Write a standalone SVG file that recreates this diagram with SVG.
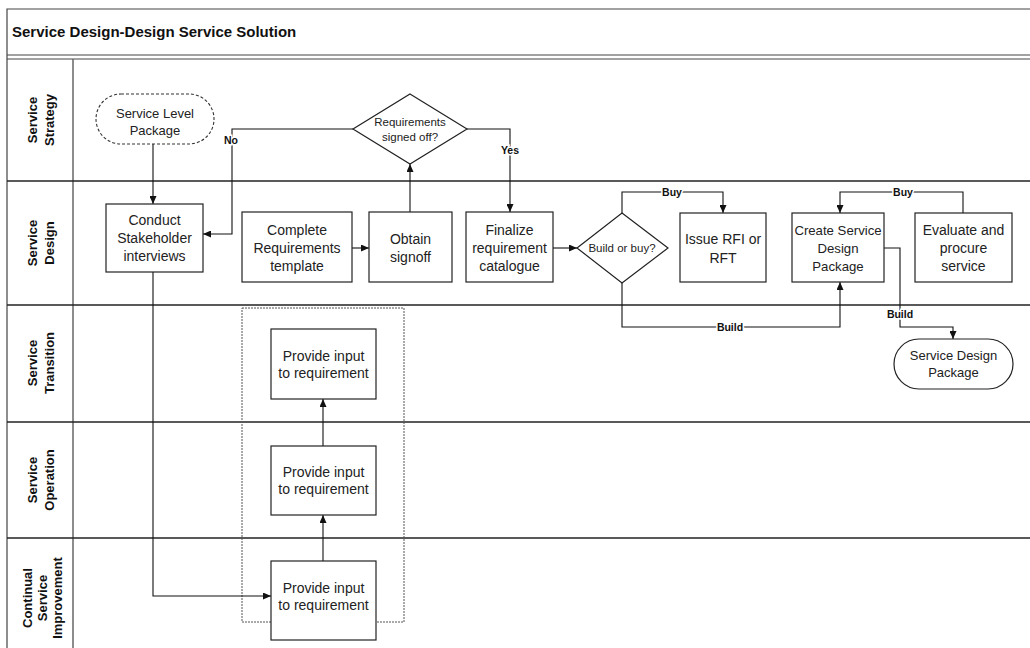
<svg xmlns="http://www.w3.org/2000/svg" width="1030" height="648" viewBox="0 0 1030 648">
  <style>
    .frame { fill: none; stroke: #444; stroke-width: 1.2; }
    .lane { stroke: #222; stroke-width: 1.5; }
    .col { stroke: #666; stroke-width: 1.5; }
    .box { fill: #fff; stroke: #222; stroke-width: 1.2; }
    .term { fill: #fff; stroke: #222; stroke-width: 1.2; }
    .dashterm { fill: #fff; stroke: #333; stroke-width: 1.1; stroke-dasharray: 3 2; }
    .group { fill: none; stroke: #555; stroke-width: 1; stroke-dasharray: 2 1; }
    .conn { fill: none; stroke: #111; stroke-width: 1.1; }
    .t { font-family: "Liberation Sans", Arial, sans-serif; fill: #222; text-anchor: middle; }
    .n { font-size: 14px; }
    .m { font-size: 13.2px; }
    .s { font-size: 13px; }
    .d { font-size: 11.5px; }
    .lbl { font-family: "Liberation Sans", Arial, sans-serif; font-weight: bold; font-size: 10.5px; fill: #111; text-anchor: middle; stroke: #fff; stroke-width: 3; paint-order: stroke; }
    .lanet { font-family: "Liberation Sans", Arial, sans-serif; font-weight: bold; font-size: 13px; fill: #111; text-anchor: middle; }
    .title { font-family: "Liberation Sans", Arial, sans-serif; font-weight: bold; font-size: 15px; fill: #111; }
  </style>
  <defs>
    <marker id="arrow" markerWidth="8" markerHeight="7" refX="8" refY="3.5" orient="auto" markerUnits="userSpaceOnUse">
      <path d="M0,0 L8,3.5 L0,7 z" fill="#111"/>
    </marker>
  </defs>

  <rect width="1030" height="648" fill="#fff"/>

  <!-- pool frame and title band -->
  <g id="pool">
    <path class="frame" d="M7,660 V9 H1040"/>
    <line class="frame" x1="7" y1="55" x2="1040" y2="55"/>
    <line class="frame" x1="7" y1="59" x2="1040" y2="59"/>
    <text class="title" x="12" y="37">Service Design-Design Service Solution</text>
  </g>

  <!-- swimlanes -->
  <g id="lanes">
    <line class="col" x1="73" y1="59" x2="73" y2="660"/>
    <line class="lane" x1="7" y1="181" x2="1040" y2="181"/>
    <line class="lane" x1="7" y1="305" x2="1040" y2="305"/>
    <line class="lane" x1="7" y1="422" x2="1040" y2="422"/>
    <line class="lane" x1="7" y1="538" x2="1040" y2="538"/>
    <text class="lanet" transform="translate(40,120) rotate(-90)"><tspan x="0" y="-3.5">Service</tspan><tspan x="0" y="13.5">Strategy</tspan></text>
    <text class="lanet" transform="translate(40,243) rotate(-90)"><tspan x="0" y="-3.5">Service</tspan><tspan x="0" y="13.5">Design</tspan></text>
    <text class="lanet" transform="translate(40,363) rotate(-90)"><tspan x="0" y="-3.5">Service</tspan><tspan x="0" y="13.5">Transition</tspan></text>
    <text class="lanet" transform="translate(40,480) rotate(-90)"><tspan x="0" y="-3.5">Service</tspan><tspan x="0" y="13.5">Operation</tspan></text>
    <text class="lanet" transform="translate(42,598) rotate(-90)"><tspan x="0" y="-10.5">Continual</tspan><tspan x="0" y="4.5">Service</tspan><tspan x="0" y="19.5">Improvement</tspan></text>
  </g>

  <!-- grouping of the input activities -->
  <rect id="input-group" class="group" x="242" y="308" width="162" height="314"/>

  <!-- connectors -->
  <g id="connectors">
    <path class="conn" d="M153,144 V204" marker-end="url(#arrow)"/>
    <path class="conn" d="M353,129 H232 V234 H203" marker-end="url(#arrow)"/>
    <path class="conn" d="M410,212 V164" marker-end="url(#arrow)"/>
    <path class="conn" d="M467,129 H510 V212" marker-end="url(#arrow)"/>
    <path class="conn" d="M352,248 H369" marker-end="url(#arrow)"/>
    <path class="conn" d="M553,248 H577" marker-end="url(#arrow)"/>
    <path class="conn" d="M622,213 V192 H723 V213" marker-end="url(#arrow)"/>
    <path class="conn" d="M622,283 V327 H840 V282" marker-end="url(#arrow)"/>
    <path class="conn" d="M963,213 V192 H840 V213" marker-end="url(#arrow)"/>
    <path class="conn" d="M884,248 H900 V327 H953 V339" marker-end="url(#arrow)"/>
    <path class="conn" d="M153,272 V596 H271" marker-end="url(#arrow)"/>
    <path class="conn" d="M323,561 V515" marker-end="url(#arrow)"/>
    <path class="conn" d="M323,446 V399" marker-end="url(#arrow)"/>
    <text class="lbl" x="231" y="144">No</text>
    <text class="lbl" x="510" y="154">Yes</text>
    <text class="lbl" x="672" y="196">Buy</text>
    <text class="lbl" x="730" y="331">Build</text>
    <text class="lbl" x="903" y="196">Buy</text>
    <text class="lbl" x="900" y="318">Build</text>
  </g>

  <!-- nodes -->
  <g id="service-level-package">
    <rect class="dashterm" x="96" y="94" width="118" height="50" rx="25"/>
    <text class="t s" x="155" y="118">Service Level<tspan x="155" y="135">Package</tspan></text>
  </g>
  <g id="requirements-signed-off">
    <polygon class="box" points="410,94 467,129 410,164 353,129"/>
    <text class="t d" x="410" y="126">Requirements<tspan x="410" y="141">signed off?</tspan></text>
  </g>
  <g id="conduct-interviews">
    <rect class="box" x="106" y="204" width="97" height="68"/>
    <text class="t n" x="154.5" y="225">Conduct<tspan x="154.5" y="243">Stakeholder</tspan><tspan x="154.5" y="261">interviews</tspan></text>
  </g>
  <g id="complete-template">
    <rect class="box" x="242" y="212" width="110" height="70"/>
    <text class="t n" x="297" y="235">Complete<tspan x="297" y="253">Requirements</tspan><tspan x="297" y="271">template</tspan></text>
  </g>
  <g id="obtain-signoff">
    <rect class="box" x="369" y="212" width="83" height="70"/>
    <text class="t n" x="410.5" y="244">Obtain<tspan x="410.5" y="262">signoff</tspan></text>
  </g>
  <g id="finalize-catalogue">
    <rect class="box" x="466" y="212" width="87" height="70"/>
    <text class="t n" x="509.5" y="235">Finalize<tspan x="509.5" y="253">requirement</tspan><tspan x="509.5" y="271">catalogue</tspan></text>
  </g>
  <g id="build-or-buy">
    <polygon class="box" points="622,213 668,248 622,283 577,248"/>
    <text class="t d" x="622" y="252">Build or buy?</text>
  </g>
  <g id="issue-rfi">
    <rect class="box" x="680" y="213" width="86" height="69"/>
    <text class="t n" x="723" y="244">Issue RFI or<tspan x="723" y="263">RFT</tspan></text>
  </g>
  <g id="create-sdp">
    <rect class="box" x="792" y="213" width="92" height="69"/>
    <text class="t m" x="838" y="235">Create Service<tspan x="838" y="253">Design</tspan><tspan x="838" y="271">Package</tspan></text>
  </g>
  <g id="evaluate-procure">
    <rect class="box" x="915" y="213" width="97" height="69"/>
    <text class="t n" x="963.5" y="235">Evaluate and<tspan x="963.5" y="253">procure</tspan><tspan x="963.5" y="271">service</tspan></text>
  </g>
  <g id="service-design-package">
    <rect class="term" x="894" y="339" width="119" height="50" rx="25"/>
    <text class="t s" x="953.5" y="360">Service Design<tspan x="953.5" y="377">Package</tspan></text>
  </g>
  <g id="input-transition">
    <rect class="box" x="271" y="329" width="105" height="70"/>
    <text class="t n" x="323.5" y="361">Provide input<tspan x="323.5" y="378">to requirement</tspan></text>
  </g>
  <g id="input-operation">
    <rect class="box" x="271" y="446" width="105" height="69"/>
    <text class="t n" x="323.5" y="477">Provide input<tspan x="323.5" y="494">to requirement</tspan></text>
  </g>
  <g id="input-improvement">
    <rect class="box" x="271" y="561" width="105" height="79"/>
    <text class="t n" x="323.5" y="593">Provide input<tspan x="323.5" y="610">to requirement</tspan></text>
  </g>
</svg>
